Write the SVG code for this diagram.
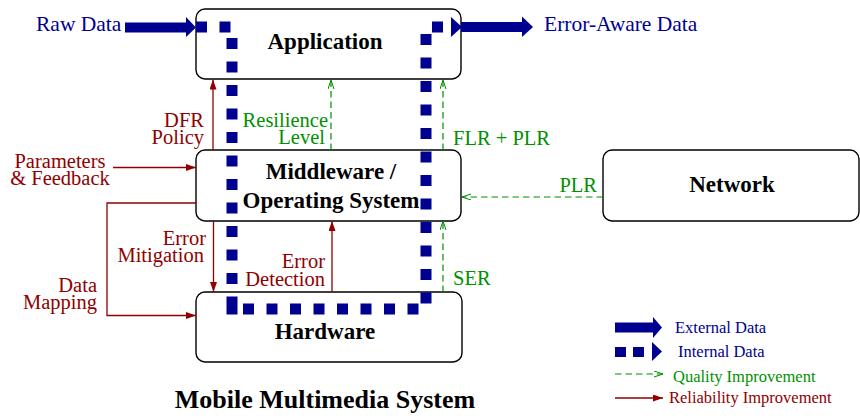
<svg xmlns="http://www.w3.org/2000/svg" width="860" height="416" viewBox="0 0 860 416">
  <style>
    .box { fill: #ffffff; stroke: #000000; stroke-width: 1.4; }
    .title { font-family: "Liberation Serif", "Times New Roman", serif; font-weight: bold; font-size: 23px; fill: #000000; text-anchor: middle; }
    .lbl { font-family: "Liberation Serif", "Times New Roman", serif; font-size: 20.5px; }
    .big { font-size: 21.5px; }
    .leg { font-family: "Liberation Serif", "Times New Roman", serif; font-size: 16.5px; }
    .blue { fill: #000090; }
    .red { fill: #900000; }
    .green { fill: #009000; }
    .end { text-anchor: end; }
    .mid { text-anchor: middle; }
    .ext { stroke: #000090; stroke-width: 10; fill: none; }
    .internal { stroke: #000090; stroke-width: 11; fill: none; stroke-dasharray: 11 12.5; }
    .solidint { stroke: #000090; stroke-width: 11; fill: none; stroke-linejoin: miter; }
    .head { fill: #000090; }
    .rel { stroke: #900000; stroke-width: 1.3; fill: none; marker-end: url(#relHead); }
    .qual { stroke: #009000; stroke-width: 1.2; fill: none; stroke-dasharray: 6.5 4; marker-end: url(#qualHead); }
  </style>
  <defs>
    <marker id="relHead" markerUnits="userSpaceOnUse" markerWidth="11" markerHeight="8" refX="10" refY="3.5" orient="auto">
      <path d="M0,0 L10,3.5 L0,7 z" fill="#900000"/>
    </marker>
    <marker id="qualHead" markerUnits="userSpaceOnUse" markerWidth="11" markerHeight="8" refX="9" refY="3" orient="auto">
      <path d="M0,0 L9,3 L0,6" fill="none" stroke="#009000" stroke-width="1"/>
    </marker>
  </defs>

  <!-- layer boxes -->
  <g id="application">
    <rect class="box" x="196" y="9" width="265" height="70" rx="9"/>
    <text class="title" x="325" y="49">Application</text>
  </g>
  <g id="middleware">
    <rect class="box" x="196" y="150" width="265" height="71" rx="9"/>
    <text class="title" x="331" y="179">Middleware /</text>
    <text class="title" x="331" y="208">Operating System</text>
  </g>
  <g id="hardware">
    <rect class="box" x="196" y="292" width="266" height="70" rx="9"/>
    <text class="title" x="325" y="339">Hardware</text>
  </g>
  <g id="network">
    <rect class="box" x="603" y="150" width="256" height="71" rx="9"/>
    <text class="title" x="732" y="192">Network</text>
  </g>

  <!-- connectors -->
  <g id="connectors">
    <!-- external data flow -->
    <g id="external-data">
      <line class="ext" x1="125" y1="27.5" x2="187" y2="27.5"/>
      <polygon class="head" points="186,17 196,27.5 186,37"/>
      <line class="ext" x1="461" y1="27" x2="523" y2="27"/>
      <polygon class="head" points="522,16.5 533,27 522,37"/>
    </g>
    <!-- internal data flow through the layers -->
    <g id="internal-data">
      <path class="internal" d="M196 27 H231"/>
      <path class="internal" d="M232 38 V291"/>
      <path class="solidint" d="M232 296.5 V309 H237.5"/>
      <path class="internal" d="M243 309 H419.5"/>
      <path class="internal" d="M426 303.5 V32"/>
      <path class="solidint" d="M432 27 H443"/>
      <polygon class="head" points="451,17 462,27 451,37"/>
    </g>
    <!-- reliability improvement -->
    <line class="rel" x1="213" y1="150" x2="213" y2="79.5"/>
    <line class="rel" x1="113" y1="167.5" x2="196" y2="167.5"/>
    <polyline class="rel" points="196,203 107,203 107,315.5 196,315.5"/>
    <line class="rel" x1="213.5" y1="221" x2="213.5" y2="292"/>
    <line class="rel" x1="332" y1="292" x2="332" y2="221"/>
    <!-- quality improvement -->
    <line class="qual" x1="331" y1="150" x2="331" y2="80"/>
    <line class="qual" x1="443" y1="150" x2="443" y2="80"/>
    <line class="qual" x1="443" y1="292" x2="443" y2="221"/>
    <line class="qual" x1="603" y1="197" x2="462" y2="197"/>
  </g>

  <!-- labels -->
  <g id="labels">
    <text class="lbl big blue" x="36" y="31">Raw Data</text>
    <text class="lbl big blue" x="544" y="31">Error-Aware Data</text>
    <text class="lbl red end" x="204" y="127">DFR</text>
    <text class="lbl red end" x="204" y="144">Policy</text>
    <text class="lbl green end" x="328" y="127">Resilience</text>
    <text class="lbl green end" x="325" y="144">Level</text>
    <text class="lbl green" x="453" y="145">FLR + PLR</text>
    <text class="lbl red mid" x="60" y="168">Parameters</text>
    <text class="lbl red mid" x="60" y="185">&amp; Feedback</text>
    <text class="lbl red end" x="206" y="245">Error</text>
    <text class="lbl red end" x="204" y="262">Mitigation</text>
    <text class="lbl red end" x="325" y="268">Error</text>
    <text class="lbl red end" x="325" y="286">Detection</text>
    <text class="lbl red end" x="97" y="292">Data</text>
    <text class="lbl red end" x="97" y="309">Mapping</text>
    <text class="lbl green" x="453" y="285">SER</text>
    <text class="lbl green end" x="597" y="192">PLR</text>
  </g>

  <!-- legend -->
  <g id="legend">
    <line class="ext" x1="615" y1="327.5" x2="654" y2="327.5"/>
    <polygon class="head" points="653,317 662,327.5 653,338"/>
    <text class="leg blue" x="675" y="333">External Data</text>
    <rect class="head" x="615" y="347" width="11" height="10"/>
    <rect class="head" x="633" y="347" width="11" height="10"/>
    <polygon class="head" points="652,342 662,351.5 652,361"/>
    <text class="leg blue" x="678" y="357">Internal Data</text>
    <line class="qual" x1="615" y1="374" x2="663" y2="374"/>
    <text class="leg green" x="673" y="382">Quality Improvement</text>
    <line class="rel" x1="615" y1="398" x2="663" y2="398"/>
    <text class="leg red" x="669" y="403">Reliability Improvement</text>
  </g>

  <text x="325" y="408" font-family="Liberation Serif, Times New Roman, serif" font-weight="bold" font-size="26" text-anchor="middle" fill="#000000">Mobile Multimedia System</text>
</svg>
